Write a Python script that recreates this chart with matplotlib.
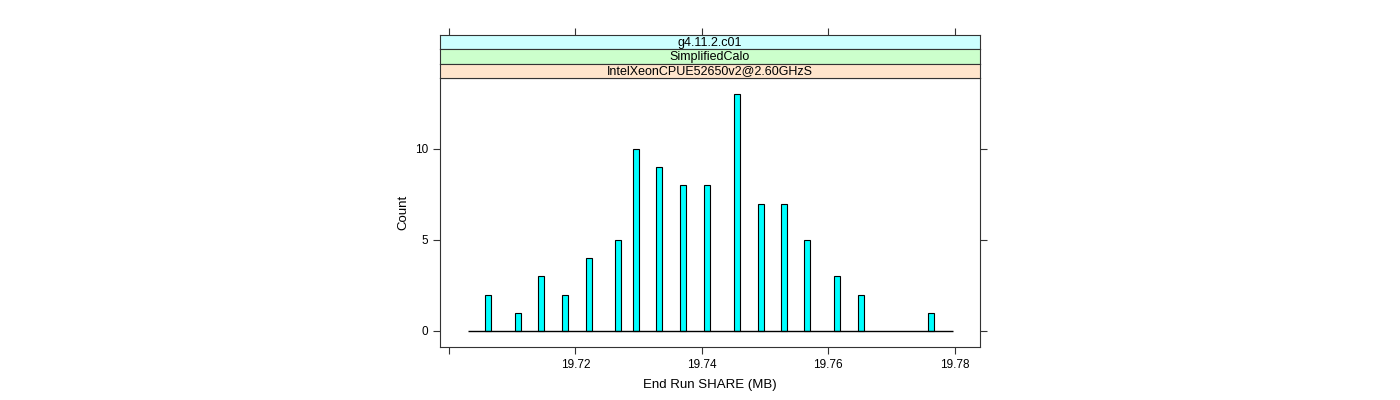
import matplotlib
matplotlib.use("Agg")
import matplotlib.pyplot as plt

plt.rcParams["font.family"] = ["Liberation Sans", "DejaVu Sans"]

# bin centres (MB) and counts
share_mb = [19.7062, 19.7109, 19.7146, 19.7184, 19.7221, 19.7267, 19.7296,
            19.7333, 19.7371, 19.7408, 19.7455, 19.7493, 19.7530, 19.7567,
            19.7614, 19.7652, 19.7763]
counts = [2, 1, 3, 2, 4, 5, 10, 9, 8, 8, 13, 7, 7, 5, 3, 2, 1]
bin_width = 0.00095
hist_range = (19.7031, 19.7798)

strip_labels = ["g4.11.2.c01", "SimplifiedCalo", "IntelXeonCPUE52650v2@2.60GHzS"]
strip_colors = ["#ccffff", "#ccffcc", "#ffe5cc"]

x_ticks = [19.70, 19.72, 19.74, 19.76, 19.78]
x_ticklabels = ["", "19.72", "19.74", "19.76", "19.78"]
y_ticks = [0, 5, 10]

W, H = 1400, 400
fig = plt.figure(figsize=(14, 4), dpi=100)

left, right = 440, 980
p_top, p_bot = 78, 347
s_top = 35

ax = fig.add_axes([left / W, 1 - p_bot / H, (right - left) / W, (p_bot - p_top) / H])
ax.hlines(0, hist_range[0], hist_range[1], color="black", lw=1)
ax.bar(share_mb, counts, width=bin_width, color="#00ffff", edgecolor="black", linewidth=0.8)
ax.set_xlim(19.6986, 19.7840)
ax.set_ylim(-0.88, 13.9)
ax.set_xticks(x_ticks)
ax.set_xticklabels(x_ticklabels)
ax.set_yticks(y_ticks)
ax.tick_params(direction="out", length=5, labelsize=8.5, right=True, top=False,
               width=0.8, color="#333333")
for s in ax.spines.values():
    s.set_color("#333333")
    s.set_linewidth(0.8)
ax.set_xlabel("End Run SHARE (MB)", fontsize=9.5, labelpad=6)
ax.set_ylabel("Count", fontsize=9.5, labelpad=4)

sh = (p_top - s_top) / 3
for i, (lab, col) in enumerate(zip(strip_labels, strip_colors)):
    y0 = s_top + i * sh
    sax = fig.add_axes([left / W, 1 - (y0 + sh) / H, (right - left) / W, sh / H])
    sax.set_facecolor(col)
    sax.set_xlim(ax.get_xlim())
    sax.set_yticks([])
    sax.text(0.5, 0.45, lab, ha="center", va="center", fontsize=9, transform=sax.transAxes)
    for s in sax.spines.values():
        s.set_color("#333333")
        s.set_linewidth(0.8)
    if i == 0:
        sax.set_xticks(x_ticks)
        sax.tick_params(axis="x", bottom=False, top=True, labelbottom=False,
                        direction="out", length=5, width=0.8, color="#333333")
    else:
        sax.set_xticks([])

fig.savefig("out.png", dpi=100)
